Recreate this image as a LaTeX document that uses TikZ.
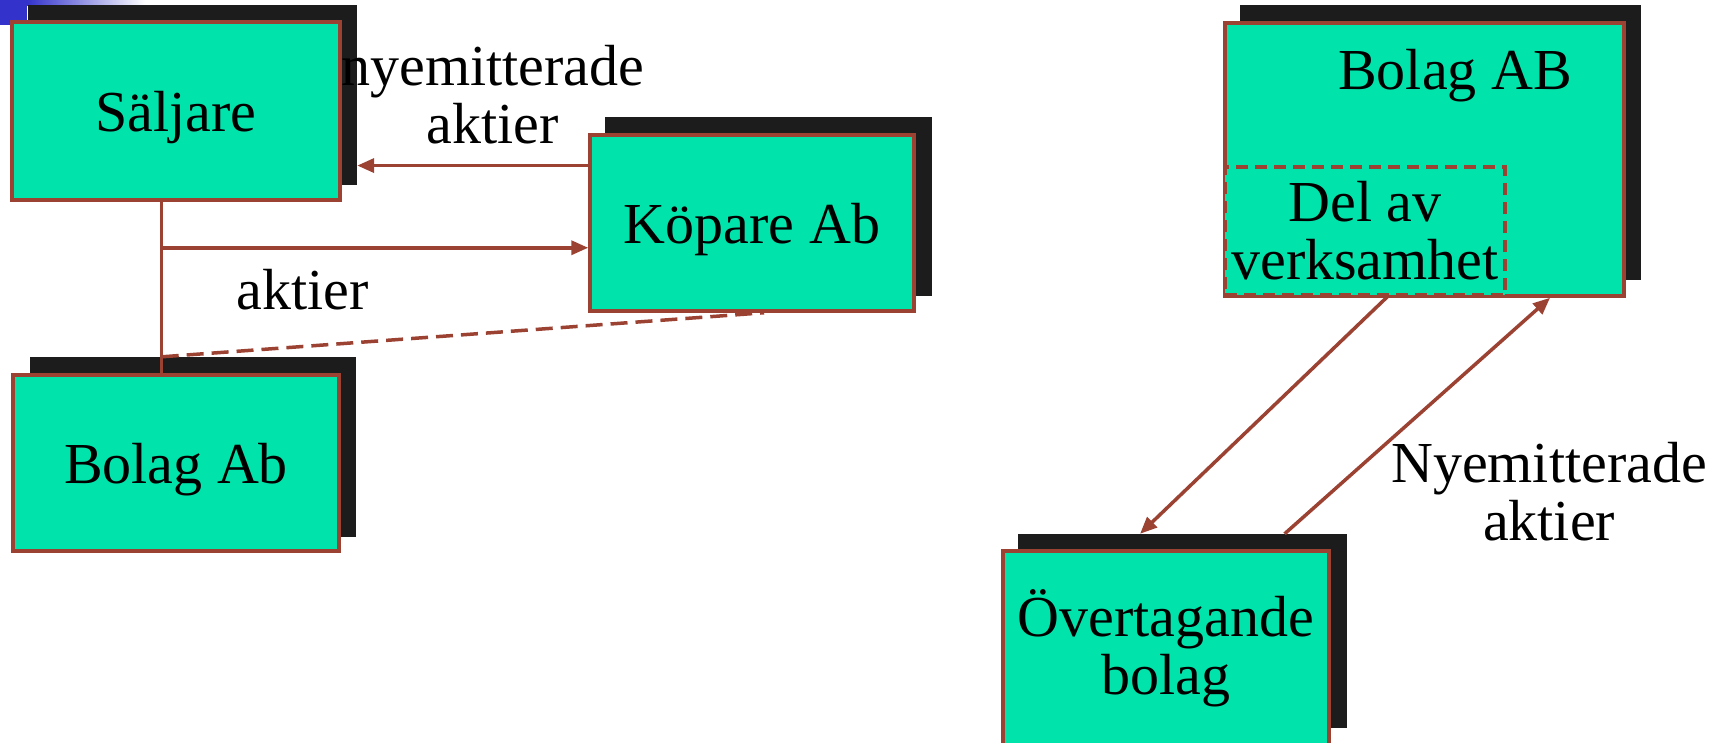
\documentclass[tikz,border=0pt]{standalone}
\usepackage{fontspec}
\setmainfont{Liberation Serif}
\usetikzlibrary{arrows.meta,calc}
\definecolor{boxgreen}{HTML}{00E3AA}
\definecolor{edge}{HTML}{9C4233}
\definecolor{shade}{HTML}{1C1C1C}
\definecolor{deco}{HTML}{3333CC}
\begin{document}
\begin{tikzpicture}[x=1pt,y=-1pt,
  shadowbox/.style={fill=shade, draw=none, inner sep=0pt},
  mainbox/.style={fill=boxgreen, draw=edge, line width=3.5pt, inner sep=0pt, align=center, font=\fontsize{58}{58}\selectfont},
  oneline/.style={text depth=0pt},
  lbl/.style={align=center, inner sep=0pt, font=\fontsize{58}{58}\selectfont},
  arr/.style={draw=edge, line width=3.5pt, -{Triangle[length=17pt,width=14pt]}},
  ln/.style={draw=edge, line width=3.5pt},
  dashln/.style={draw=edge, line width=3.5pt, dash pattern=on 17pt off 8pt}]
\useasboundingbox (0,0) rectangle (1719,742);
% decoration top-left
\fill[deco] (0,0) rectangle (27,25);
\shade[left color=deco, right color=white] (27,0) rectangle (145,5);
% boxes
\node[shadowbox, minimum width=329pt, minimum height=180pt] (s1sh) at (192.5,95) {};
\node[mainbox, oneline, minimum width=328pt, minimum height=178pt] (s1) at (176,111) {Säljare};
\node[shadowbox, minimum width=327pt, minimum height=179pt] (ksh) at (768.5,206.5) {};
\node[mainbox, oneline, minimum width=324pt, minimum height=176pt] (k) at (752,223) {Köpare Ab};
\node[shadowbox, minimum width=326pt, minimum height=180pt] (b1sh) at (193,447) {};
\node[mainbox, oneline, minimum width=326pt, minimum height=176pt] (b1) at (176,463) {Bolag Ab};
\node[shadowbox, minimum width=401pt, minimum height=275pt] (babsh) at (1440.5,142.5) {};
\node[mainbox, minimum width=399pt, minimum height=273pt] (bab) at (1424.5,159.5) {};
\node[mainbox, dash pattern=on 12pt off 7pt, minimum width=280pt, minimum height=128pt] (del) at (1365,231) {Del av\\verksamhet};
\node[shadowbox, minimum width=329pt, minimum height=194pt] (ovsh) at (1182.5,631) {};
\node[mainbox, minimum width=326pt, minimum height=194pt] (ov) at (1166,648) {Övertagande\\bolag};
% connectors left
\coordinate (v) at ($(s1.south west)!0.457!(s1.south east)$);
\draw[ln] (v) -- (v |- b1.north);
\coordinate (hj) at ($(v)+(0,46)$);
\draw[arr] (hj) -- (hj -| k.west);
\coordinate (ua) at ($(k.north west)!0.18!(k.south west)$);
\draw[arr] (ua) -- (ua -| s1sh.east);
\coordinate (dj) at (v |- b1sh.north);
\draw[dashln] (dj) -- ($(k.south west)!0.537!(k.south east)$);
% connectors right
\draw[arr] ($(del.south west)!0.579!(del.south east)$) -- ($(ovsh.north west)!0.371!(ovsh.north east)$);
\draw[arr] ($(ovsh.north west)!0.81!(ovsh.north east)$) -- ($(bab.south west)!0.812!(bab.south east)$);
% labels
\node[lbl] (l1) at (493,95) {nyemitterade\\aktier};
\node[lbl, anchor=base] (l2) at (303,309) {aktier};
\node[lbl] (l3) at (1549,492) {Nyemitterade\\aktier};
\node[lbl, anchor=base] (l4) at (1455,89) {Bolag AB};
\end{tikzpicture}
\end{document}
